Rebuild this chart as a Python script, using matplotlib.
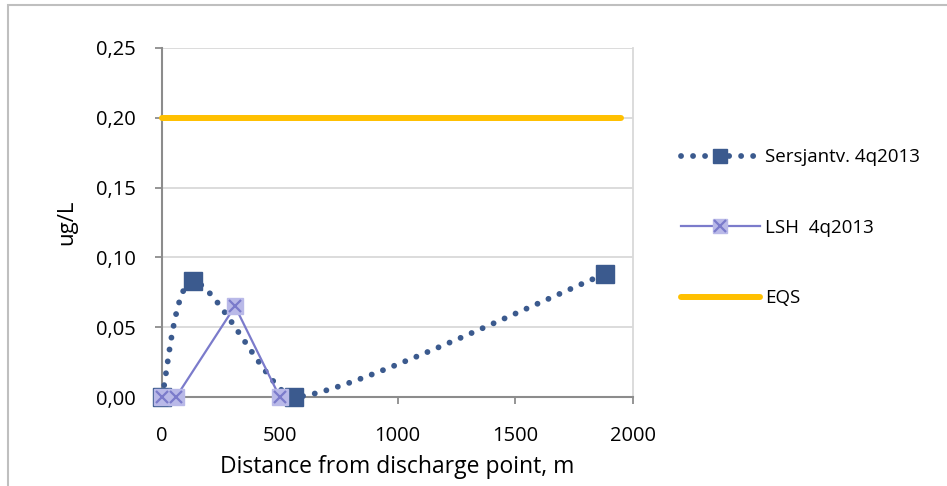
import numpy as np
import matplotlib
matplotlib.use("Agg")
import matplotlib.pyplot as plt
from matplotlib.lines import Line2D
from matplotlib.patches import Rectangle
from matplotlib.legend_handler import HandlerTuple

plt.rcParams['font.family'] = ['Open Sans', 'DejaVu Sans']

# Data
sersjant_x = [0, 130, 560, 1880]
sersjant_y = [0.0, 0.083, 0.0, 0.088]
lsh_x = [0, 60, 310, 500]
lsh_y = [0.0, 0.0, 0.065, 0.0]
eqs_x = [0, 1950]
eqs_y = [0.20, 0.20]

series_names = ["Sersjantv. 4q2013", "LSH  4q2013", "EQS"]
x_ticks = [0, 500, 1000, 1500, 2000]
y_ticks = [0.00, 0.05, 0.10, 0.15, 0.20, 0.25]

C_SER = "#3B5A8E"
C_LSH_LINE = "#7B7BCB"
C_LSH_FILL = "#B9B9E8"
C_EQS = "#FFC000"
C_GRID = "#D9D9D9"
C_AXIS = "#8C8C8C"

DOT_LW = 4.2
DOTS = (0, (0.01, 2.05))


def smooth_curve(xs, ys, k=0.15, n=80):
    """Lightly smoothed Bezier path through the given points."""
    sx, sy = 0.236, 1396.0
    p = np.column_stack([xs, ys]).astype(float) * [sx, sy]
    m = len(p)
    tang = np.zeros_like(p)
    for i in range(m):
        a = p[max(i - 1, 0)]
        b = p[min(i + 1, m - 1)]
        d = b - a
        tang[i] = d / np.linalg.norm(d)
    out = []
    for i in range(m - 1):
        p1, p2 = p[i], p[i + 1]
        L = np.linalg.norm(p2 - p1)
        c1 = p1 + tang[i] * k * L
        c2 = p2 - tang[i + 1] * k * L
        t = np.linspace(0, 1, n)[:, None]
        seg = ((1 - t) ** 3) * p1 + 3 * ((1 - t) ** 2) * t * c1 + 3 * (1 - t) * t ** 2 * c2 + t ** 3 * p2
        out.append(seg if i == 0 else seg[1:])
    out = np.vstack(out) / [sx, sy]
    return out[:, 0], out[:, 1]


W, H = 947, 486
fig = plt.figure(figsize=(W / 100, H / 100), dpi=100)
fig.patch.set_facecolor("white")

# chart-area border
fig.add_artist(Rectangle((8 / W, -0.01), 1.2, 1 - 5 / H + 0.01, transform=fig.transFigure,
                         fill=False, edgecolor="#BFBFBF", linewidth=1.5))

ax = fig.add_axes([162 / W, 1 - 397 / H, (633 - 162) / W, (397 - 48) / H])
ax.set_xlim(0, 2000)
ax.set_ylim(0, 0.25)

ax.set_yticks(y_ticks)
ax.set_yticklabels([f"{v:.2f}".replace(".", ",") for v in y_ticks])
ax.set_xticks(x_ticks)
ax.set_xticklabels([str(v) for v in x_ticks])

ax.grid(axis="y", color=C_GRID, linewidth=1.3, zorder=0)
ax.set_axisbelow(True)
ax.spines["top"].set_visible(False)
ax.spines["right"].set_color(C_GRID)
ax.spines["right"].set_linewidth(1.3)
ax.spines["left"].set_color(C_AXIS)
ax.spines["left"].set_linewidth(1.5)
ax.spines["bottom"].set_color(C_AXIS)
ax.spines["bottom"].set_linewidth(1.5)
ax.tick_params(axis="y", length=5, width=1.3, color=C_AXIS, pad=14, labelsize=14.5)
ax.tick_params(axis="x", length=5, width=1.3, color=C_AXIS, pad=16, labelsize=14.5)

ax.set_ylabel("ug/L", fontsize=16, labelpad=13)
ax.set_xlabel("Distance from discharge point, m", fontsize=16.5, labelpad=6)

# EQS
ax.plot(eqs_x, eqs_y, color=C_EQS, linewidth=4.3, solid_capstyle="round", zorder=3, clip_on=False)

# Sersjantv. smoothed dotted line
sx_s, sy_s = smooth_curve(sersjant_x, sersjant_y)
ax.plot(sx_s, sy_s, color=C_SER, linewidth=DOT_LW, linestyle=DOTS,
        dash_capstyle="round", zorder=4, clip_on=False)
ax.plot(sersjant_x, sersjant_y, linestyle="none", marker="s", markersize=13.5,
        markerfacecolor=C_SER, markeredgecolor=C_SER, zorder=5, clip_on=False)

# LSH
ax.plot(lsh_x, lsh_y, color=C_LSH_LINE, linewidth=1.6, zorder=6, clip_on=False)
ax.plot(lsh_x, lsh_y, linestyle="none", marker="s", markersize=11.5,
        markerfacecolor=C_LSH_FILL, markeredgecolor=C_LSH_FILL, zorder=7, clip_on=False)
ax.plot(lsh_x, lsh_y, linestyle="none", marker="x", markersize=9, markeredgewidth=1.6,
        color=C_LSH_LINE, zorder=8, clip_on=False)

# Legend
h_ser = Line2D([], [], color=C_SER, linewidth=DOT_LW, linestyle=DOTS, dash_capstyle="round",
               marker="s", markersize=10, markerfacecolor=C_SER, markeredgecolor=C_SER)
h_lsh_a = Line2D([], [], color=C_LSH_LINE, linewidth=1.6, marker="s", markersize=10,
                 markerfacecolor=C_LSH_FILL, markeredgecolor=C_LSH_FILL)
h_lsh_b = Line2D([], [], linestyle="none", marker="x", markersize=8, markeredgewidth=1.6,
                 color=C_LSH_LINE)
h_eqs = Line2D([], [], color=C_EQS, linewidth=4.3, solid_capstyle="round")

leg = fig.legend([h_ser, (h_lsh_a, h_lsh_b), h_eqs], series_names,
                 handler_map={tuple: HandlerTuple(ndivide=1)},
                 loc="center left", bbox_to_anchor=(681 / W, 1 - 228 / H),
                 frameon=False, fontsize=13.5, handlelength=4.2, handletextpad=0.3,
                 labelspacing=2.8, borderaxespad=0, borderpad=0)

fig.savefig("out.png", dpi=100)
